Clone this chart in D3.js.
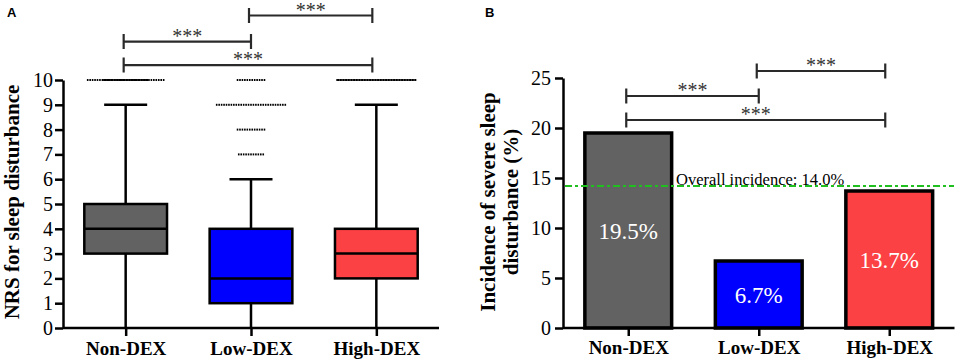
<!DOCTYPE html>
<html lang="en">
	<head>
		<meta charset="utf-8">
		<title>NRS and incidence of sleep disturbance</title>
		<script type="text/javascript" src="https://cdn.jsdelivr.net/npm/d3@7"></script>
		<style type="text/css">
			body { margin: 0; background: #fff; }
			svg text { font-family: 'Liberation Serif', 'Times New Roman', serif; }
			.axis path, .axis line { stroke: #000; stroke-width: 2.5; }
			.axis text { font-size: 20px; fill: #000; }
			.xaxis text { font-size: 19px; font-weight: bold; }
			svg text.letter { font-family: Arial, 'Liberation Sans', sans-serif; }
		</style>
	</head>
	<body>
		<script type="text/javascript">

			//Data
			let groups = ["Non-DEX", "Low-DEX", "High-DEX"];
			let colors = ["#626262", "#0000fe", "#fb4143"];

			//Panel A: box plot summaries (NRS)
			let whiskerLow = [0, 0, 0];
			let q1 = [3, 1, 2];
			let median = [4, 2, 3];
			let q3 = [5, 4, 4];
			let whiskerHigh = [9, 6, 9];
			//outlier rows: group index, NRS value, number of patients (dots)
			let outlierGroup = [0, 0, 1, 1, 1, 1, 2];
			let outlierValue = [10, 10, 10, 9, 8, 7, 10];
			let outlierCount = [32, 30, 12, 29, 12, 11, 50];
			let nrsTicks = [0, 1, 2, 3, 4, 5, 6, 7, 8, 9, 10];

			//Panel B: incidence of severe sleep disturbance (%)
			let incidence = [19.5, 6.7, 13.7];
			let overall = 14.0;
			let incTicks = [0, 5, 10, 15, 20, 25];

			//Significance brackets: from, to, height (data units)
			let bracketFrom = [1, 0, 0];
			let bracketTo = [2, 1, 2];
			let bracketA = [12.6, 11.55, 10.6];
			let bracketB = [25.7, 23.2, 20.8];
			let sigLabel = "***";

			let w = 957;
			let h = 363;
			let serif = "'Liberation Serif', 'Times New Roman', serif";

			let svg = d3.select("body")
						.append("svg")
						  .attr("width", w)
						  .attr("height", h)
						  .attr("font-family", serif);

			//---------- Panel A ----------
			let xA = d3.scalePoint().domain(groups).range([63, 439]).padding(0.5);
			let yA = d3.scaleLinear().domain([0, 10]).range([328, 80]);
			let boxW = xA.step() * 0.66;
			let capW = boxW * 0.52;

			let gA = svg.append("g");

			//y axis
			gA.append("g")
			    .attr("class", "axis")
			    .attr("transform", "translate(63,0)")
			    .call(d3.axisLeft(yA).tickValues(nrsTicks).tickSize(8).tickSizeOuter(0).tickPadding(2))
			    .attr("font-family", serif);

			//x axis
			let axA = gA.append("g")
			    .attr("class", "axis xaxis")
			    .attr("transform", "translate(0,328)")
			    .call(d3.axisBottom(xA).tickSize(8).tickSizeOuter(0))
			    .attr("font-family", serif);
			axA.select(".domain").remove();
			axA.selectAll(".tick text").attr("y", 27).attr("dy", 0);
			gA.append("line")
			    .attr("x1", 63).attr("x2", 439)
			    .attr("y1", 328).attr("y2", 328)
			    .attr("stroke", "#000").attr("stroke-width", 2.5);

			//whiskers
			groups.forEach((g, i) => {
				let cx = xA(g);
				gA.append("line")
				    .attr("x1", cx).attr("x2", cx)
				    .attr("y1", yA(whiskerLow[i])).attr("y2", yA(q1[i]))
				    .attr("stroke", "#000").attr("stroke-width", 2.5);
				gA.append("line")
				    .attr("x1", cx).attr("x2", cx)
				    .attr("y1", yA(q3[i])).attr("y2", yA(whiskerHigh[i]))
				    .attr("stroke", "#000").attr("stroke-width", 2.5);
				gA.append("line")
				    .attr("x1", cx - capW / 2).attr("x2", cx + capW / 2)
				    .attr("y1", yA(whiskerHigh[i])).attr("y2", yA(whiskerHigh[i]))
				    .attr("stroke", "#000").attr("stroke-width", 2.5);
			});

			//boxes
			gA.selectAll("rect.box")
			    .data(groups)
			    .enter()
			  .append("rect")
			    .attr("class", "box")
			    .attr("x", d => xA(d) - boxW / 2)
			    .attr("y", (d, i) => yA(q3[i]))
			    .attr("width", boxW)
			    .attr("height", (d, i) => yA(q1[i]) - yA(q3[i]))
			    .attr("fill", (d, i) => colors[i])
			    .attr("stroke", "#000")
			    .attr("stroke-width", 2.5);

			//medians
			gA.selectAll("line.median")
			    .data(groups)
			    .enter()
			  .append("line")
			    .attr("class", "median")
			    .attr("x1", d => xA(d) - boxW / 2)
			    .attr("x2", d => xA(d) + boxW / 2)
			    .attr("y1", (d, i) => yA(median[i]))
			    .attr("y2", (d, i) => yA(median[i]))
			    .attr("stroke", "#000")
			    .attr("stroke-width", 2.5);

			//outlier dots, spread sideways (dense rows overlap into a solid line)
			let dots = [];
			outlierValue.forEach((v, k) => {
				let n = outlierCount[k];
				let gap = Math.min(2.45, 80 / n);
				if (k == 1) gap = 1.5;
				let cx = xA(groups[outlierGroup[k]]);
				for (let j = 0; j < n; j++) {
					dots.push({ x: cx + (j - (n - 1) / 2) * gap, v: v });
				}
			});
			gA.selectAll("rect.dot")
			    .data(dots)
			    .enter()
			  .append("rect")
			    .attr("class", "dot")
			    .attr("x", d => d.x - 0.8)
			    .attr("y", d => yA(d.v) - 1)
			    .attr("width", 1.6)
			    .attr("height", 2)
			    .attr("fill", "#000");

			//Significance brackets
			function brackets(g, xs, ys, heights) {
				heights.forEach((hv, i) => {
					let x1 = xs(groups[bracketFrom[i]]) - 2;
					let x2 = xs(groups[bracketTo[i]]) - (bracketTo[i] == 2 ? 4 : 0);
					let yy = ys(hv);
					g.append("path")
					    .attr("d", `M${x1},${yy - 7.5}V${yy + 7.5}M${x1},${yy}H${x2}M${x2},${yy - 7.5}V${yy + 7.5}`)
					    .attr("fill", "none")
					    .attr("stroke", "#2a2a2a")
					    .attr("stroke-width", 2.2);
					g.append("text")
					    .attr("x", (x1 + x2) / 2)
					    .attr("y", yy + 1)
					    .attr("text-anchor", "middle")
					    .attr("font-size", 20)
					    .attr("fill", "#333")
					    .text(sigLabel);
				});
			}
			brackets(gA, xA, yA, bracketA);

			//y label
			gA.append("text")
			    .attr("transform", "translate(19,202) rotate(-90)")
			    .attr("text-anchor", "middle")
			    .attr("font-size", 21)
			    .attr("font-weight", "bold")
			    .text("NRS for sleep disturbance");

			//panel letter
			svg.append("text")
			    .attr("class", "letter")
			    .attr("x", 7).attr("y", 17)
			    .attr("font-size", 13)
			    .attr("font-weight", "bold")
			    .text("A");

			//---------- Panel B ----------
			let xB = d3.scalePoint().domain(groups).range([563, 954.5]).padding(0.5);
			let yB = d3.scaleLinear().domain([0, 25]).range([328, 78]);
			let barW = xB.step() * 0.665;

			let gB = svg.append("g");

			//bars
			gB.selectAll("rect.bar")
			    .data(incidence)
			    .enter()
			  .append("rect")
			    .attr("class", "bar")
			    .attr("x", (d, i) => xB(groups[i]) - barW / 2)
			    .attr("y", d => yB(d))
			    .attr("width", barW)
			    .attr("height", d => yB(0) - yB(d))
			    .attr("fill", (d, i) => colors[i])
			    .attr("stroke", "#000")
			    .attr("stroke-width", 3.5);

			//bar labels
			gB.selectAll("text.val")
			    .data(incidence)
			    .enter()
			  .append("text")
			    .attr("class", "val")
			    .attr("x", (d, i) => xB(groups[i]))
			    .attr("y", d => yB(d / 2) + 8)
			    .attr("text-anchor", "middle")
			    .attr("font-size", 23)
			    .attr("fill", "#fff")
			    .text(d => d.toFixed(1) + "%");

			//y axis
			gB.append("g")
			    .attr("class", "axis")
			    .attr("transform", "translate(563,0)")
			    .call(d3.axisLeft(yB).tickValues(incTicks).tickSize(8).tickSizeOuter(0).tickPadding(4))
			    .attr("font-family", serif);

			//x axis
			let axB = gB.append("g")
			    .attr("class", "axis xaxis")
			    .attr("transform", "translate(0,328)")
			    .call(d3.axisBottom(xB).tickSize(8).tickSizeOuter(0))
			    .attr("font-family", serif);
			axB.select(".domain").remove();
			axB.selectAll(".tick text").attr("y", 26).attr("dy", 0);
			gB.append("line")
			    .attr("x1", 563).attr("x2", 954.5)
			    .attr("y1", 328).attr("y2", 328)
			    .attr("stroke", "#000").attr("stroke-width", 2.5);

			//overall incidence reference line
			gB.append("line")
			    .attr("x1", 565).attr("x2", 954)
			    .attr("y1", yB(overall) - 2).attr("y2", yB(overall) - 2)
			    .attr("stroke", "#1fbf1f")
			    .attr("stroke-width", 2)
			    .attr("stroke-dasharray", "7,3,3,3");
			gB.append("text")
			    .attr("x", 676)
			    .attr("y", yB(overall) - 3)
			    .attr("font-size", 16.5)
			    .attr("fill", "#000")
			    .text("Overall incidence: " + overall.toFixed(1) + "%");

			brackets(gB, xB, yB, bracketB);

			//y label (two lines)
			let yl = gB.append("text")
			    .attr("transform", "translate(495,202) rotate(-90)")
			    .attr("text-anchor", "middle")
			    .attr("font-size", 21)
			    .attr("font-weight", "bold");
			yl.append("tspan").attr("x", 0).attr("dy", 0).text("Incidence of severe sleep");
			yl.append("tspan").attr("x", 0).attr("dy", 23).text("disturbance (%)");

			svg.append("text")
			    .attr("class", "letter")
			    .attr("x", 485).attr("y", 17)
			    .attr("font-size", 13)
			    .attr("font-weight", "bold")
			    .text("B");

		</script>
	</body>
</html>
